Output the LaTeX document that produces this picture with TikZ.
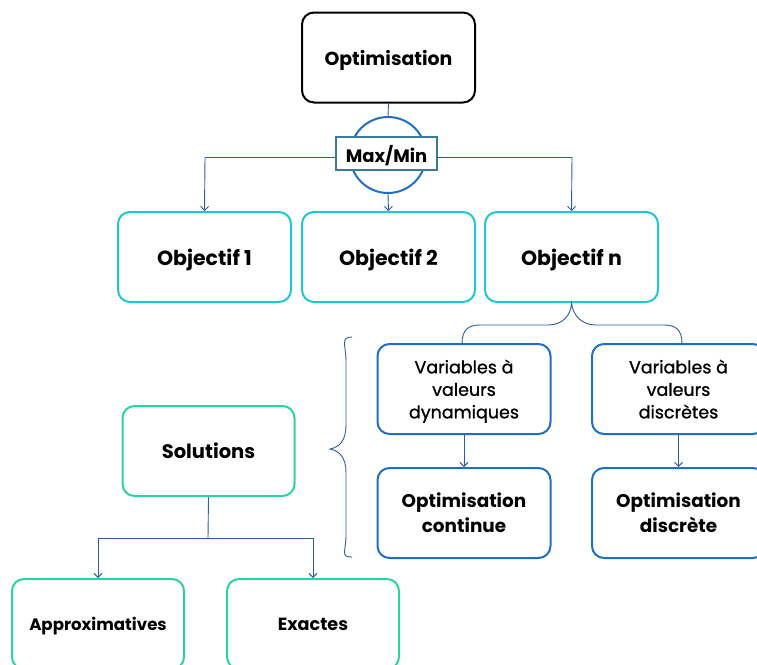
\documentclass[tikz,border=0pt]{standalone}
\usepackage{fontspec}
\setmainfont{Poppins}
\usetikzlibrary{arrows.meta}
\definecolor{cyanb}{HTML}{22C7D6}
\definecolor{blueb}{HTML}{1F6FC4}
\definecolor{greenb}{HTML}{2CD3A2}
\definecolor{conn}{HTML}{2B5E9E}
\definecolor{mmb}{HTML}{3A7A9A}
\tikzset{
  box/.style={draw, line width=2pt, rounded corners=12pt, minimum width=173pt, minimum height=90pt, align=center, font=\bfseries, inner sep=0pt, text depth=0pt},
  topbox/.style={box, draw=black},
  objbox/.style={box, draw=cyanb, font=\bfseries\fontsize{20.5}{22}\selectfont},
  varbox/.style={box, draw=blueb, font=\fontsize{17.5}{22.5}\selectfont\addfontfeatures{FakeBold=1}},
  optbox/.style={box, draw=blueb, font=\bfseries\fontsize{18.4}{25}\selectfont},
  solbox/.style={box, draw=greenb, minimum width=172pt},
  conn/.style={draw=conn, line width=0.9pt},
  arr/.style={conn, -{Straight Barb[length=4pt,width=8pt]}},
}
\begin{document}
\begin{tikzpicture}[x=1pt,y=-1pt]
\useasboundingbox (0,0) rectangle (757,664);
% top
\node[topbox, font=\bfseries\fontsize{18.9}{22}\selectfont] (opt) at (388.5,57.5) {Optimisation};
\node[circle, draw=blueb, line width=2pt, minimum size=76pt, inner sep=0pt] (circ) at (388,155) {};
\draw[conn] (opt.south) -- (circ.north);
\coordinate (hl) at (205,157);
\coordinate (hr) at (572,157);
\draw[conn] (hl) -- (hr);
\node[draw=mmb, line width=1.2pt, fill=white, minimum width=101pt, minimum height=33pt, inner sep=0pt, text depth=0pt, font=\bfseries\fontsize{18}{20}\selectfont] (mm) at (386.5,153.5) {Max/Min};
% objectives
\node[objbox] (o1) at (204.5,257) {Objectif 1};
\node[objbox] (o2) at (388.5,257) {Objectif 2};
\node[objbox] (on) at (571.5,257) {Objectif n};
\draw[arr] (hl) -- (o1.north);
\draw[arr] (circ.south) -- (o2.north);
\draw[arr] (hr) -- (on.north);
% variables
\node[varbox] (vd) at (464,389) {Variables à\\valeurs\\dynamiques};
\node[varbox] (vc) at (678.5,389) {Variables à\\valeurs\\discrètes};
\node[optbox] (oc) at (464,513) {Optimisation\\continue};
\node[optbox] (od) at (678.5,513) {Optimisation\\discrète};
\draw[arr] (vd.south) -- (oc.north);
\draw[arr] (vc.south) -- (od.north);
% brace under Objectif n
\coordinate (bl) at (462,344);
\coordinate (br) at (682,344);
\draw[conn] (bl) .. controls (462,330) and (468,325) .. (480,325)
  -- (548,325) .. controls (562,325) and (571,316) .. (on.south)
  .. controls (573,316) and (582,325) .. (596,325)
  -- (664,325) .. controls (676,325) and (682,330) .. (br);
% left brace
\coordinate (lbt) at (352,337);
\coordinate (lbb) at (352,557);
\coordinate (lbc) at (330,449);
\draw[conn] (lbt) .. controls (340,337) and (346,345) .. (346,362)
  -- (346,425) .. controls (346,440) and (340,447) .. (lbc)
  .. controls (340,451) and (346,458) .. (346,473)
  -- (346,535) .. controls (346,552) and (340,557) .. (lbb);
% solutions
\node[solbox, font=\bfseries\fontsize{19.5}{22}\selectfont] (sol) at (208.5,451) {Solutions};
\node[solbox, font=\bfseries\fontsize{16.6}{19}\selectfont] (ap) at (98,624) {Approximatives};
\node[solbox, font=\bfseries\fontsize{17.6}{19}\selectfont] (ex) at (313,624) {Exactes};
\coordinate (sj) at (208,538);
\draw[conn] (sol.south) -- (sj);
\draw[arr] (sj) -| (ap.north);
\draw[arr] (sj) -| (ex.north);
\end{tikzpicture}
\end{document}
